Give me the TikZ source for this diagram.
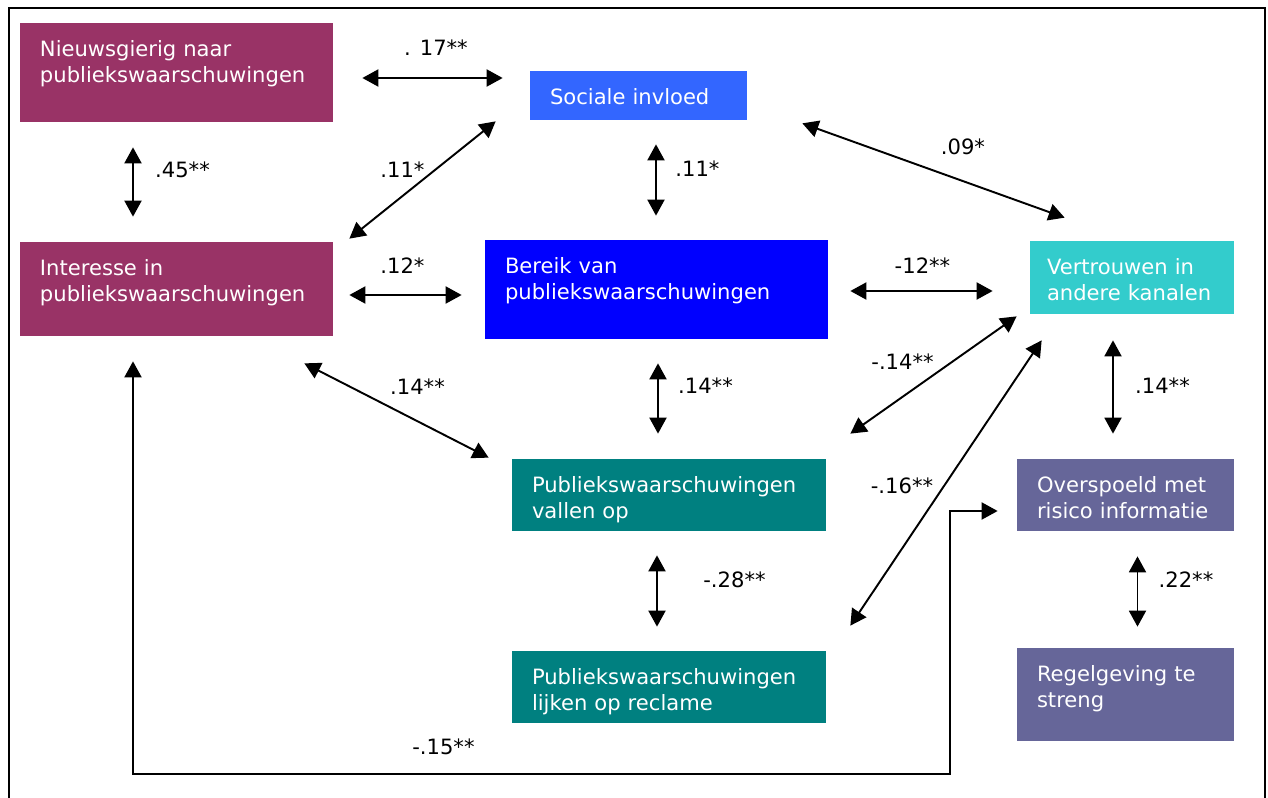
\documentclass[tikz,border=0pt]{standalone}
\usepackage{fontspec}
\setmainfont{DejaVu Sans}
\usepackage{xcolor}
\usepackage{tikz}
\usetikzlibrary{arrows.meta, positioning}
\definecolor{paars}{HTML}{993366}
\definecolor{lichtblauw}{HTML}{3366FF}
\definecolor{blauw}{HTML}{0000FF}
\definecolor{turkoois}{HTML}{33CCCC}
\definecolor{groenblauw}{HTML}{008080}
\definecolor{grijsblauw}{HTML}{666699}
\newcommand{\kaderfont}{\fontsize{12}{14.8}\selectfont}
\tikzstyle{kader} = [rectangle, inner xsep=0.4cm, inner ysep=0pt, text height=0.66cm, align=left, text=white, font=\kaderfont]
\tikzstyle{interesse} = [kader, fill=paars, text width=5.46cm]
\tikzstyle{sociaal} = [kader, fill=lichtblauw, text width=3.54cm]
\tikzstyle{bereik} = [kader, fill=blauw, text width=6.06cm]
\tikzstyle{vertrouwen} = [kader, fill=turkoois, inner xsep=0.34cm, text width=3.4cm]
\tikzstyle{houding} = [kader, fill=groenblauw, text width=5.48cm]
\tikzstyle{risico} = [kader, fill=grijsblauw, text width=3.54cm]
\tikzstyle{pijl} = [line width=1.1pt, {Triangle[length=0.32cm,width=0.34cm]}-{Triangle[length=0.32cm,width=0.34cm]}]
\tikzstyle{coef} = [inner sep=0pt, text=black, font=\kaderfont]

\begin{document}
\begin{tikzpicture}[node distance=4cm]
    \useasboundingbox (-3.53,1.45) rectangle (21.83,-14.51);
    \draw [line width=1.2pt] (-3.35,1.29) rectangle (21.77,-14.75);
    \node (nieuws) [interesse, text depth=1.32cm] {Nieuwsgierig naar\\publiekswaarschuwingen};
    \node (sociaal) [sociaal, right of=nieuws, xshift=5.24cm, yshift=-0.46cm, text depth=0.32cm] {Sociale invloed};
    \node (interesse) [interesse, below of=nieuws, yshift=-0.33cm, text depth=1.22cm] {Interesse in\\publiekswaarschuwingen};
    \node (bereik) [bereik, right of=interesse, xshift=5.6cm, yshift=-0.01cm, text depth=1.32cm] {Bereik van\\publiekswaarschuwingen};
    \node (vertrouwen) [vertrouwen, right of=bereik, xshift=5.51cm, yshift=0.24cm, text depth=0.8cm] {Vertrouwen in\\andere kanalen};
    \node (opvallen) [houding, below of=bereik, xshift=0.25cm, yshift=-0.11cm, text depth=0.78cm] {Publiekswaarschuwingen\\vallen op};
    \node (overspoeld) [risico, right of=opvallen, xshift=5.13cm, text depth=0.78cm] {Overspoeld met\\risico informatie};
    \node (reclame) [houding, below of=opvallen, yshift=0.16cm, text depth=0.78cm] {Publiekswaarschuwingen\\lijken op reclame};
    \node (regels) [risico, below of=overspoeld, yshift=0.01cm, text depth=1.2cm] {Regelgeving te\\streng};
    \coordinate (bocht) at (15.47,-14.03);
    % correlaties
    \draw [pijl] ([xshift=0.58cm,yshift=-0.11cm]nieuws.east) -- ([xshift=-0.54cm,yshift=0.35cm]sociaal.west)
        node (k1) [coef, midway, xshift=0.07cm, yshift=0.6cm] {. 17**};
    \draw [pijl] ([xshift=-0.87cm,yshift=-0.5cm]nieuws.south) -- ([xshift=-0.87cm,yshift=0.5cm]interesse.north)
        node (k2) [coef, midway, xshift=0.99cm, yshift=0.24cm] {.45**};
    \draw [pijl] ([xshift=0.32cm,yshift=0.06cm]interesse.north east) -- ([xshift=-0.68cm,yshift=-0.02cm]sociaal.south west)
        node (k3) [coef, midway, xshift=-0.4cm, yshift=0.21cm] {.11*};
    \draw [pijl] ([xshift=0.35cm,yshift=-0.48cm]sociaal.south) -- ([xshift=-0.01cm,yshift=0.48cm]bereik.north)
        node (k4) [coef, midway, xshift=0.83cm, yshift=0.23cm] {.11*};
    \draw [pijl] ([xshift=1.1cm,yshift=-0.06cm]sociaal.south east) -- ([xshift=0.7cm,yshift=0.46cm]vertrouwen.north west)
        node (k5) [coef, midway, xshift=0.59cm, yshift=0.47cm] {.09*};
    \draw [pijl] ([xshift=0.32cm,yshift=-0.12cm]interesse.east) -- ([xshift=-0.46cm,yshift=-0.11cm]bereik.west)
        node (k6) [coef, midway, xshift=-0.06cm, yshift=0.58cm] {.12*};
    \draw [pijl] ([xshift=0.44cm,yshift=-0.03cm]bereik.east) -- ([xshift=-0.74cm,yshift=-0.27cm]vertrouwen.west)
        node (k7) [coef, midway, xshift=0.02cm, yshift=0.5cm] {-12**};
    \draw [pijl] ([xshift=-0.58cm,yshift=-0.54cm]interesse.south east) -- ([xshift=-0.46cm,yshift=0.02cm]opvallen.north west)
        node (k8) [coef, midway, xshift=0.42cm, yshift=0.48cm] {.14**};
    \draw [pijl] ([xshift=0.03cm,yshift=-0.48cm]bereik.south) -- ([xshift=-0.22cm,yshift=0.5cm]opvallen.north)
        node (k9) [coef, midway, xshift=0.95cm, yshift=0.25cm] {.14**};
    \draw [pijl] ([xshift=0.48cm,yshift=0.5cm]opvallen.north east) -- ([xshift=-0.26cm,yshift=-0.04cm]vertrouwen.south west)
        node (k10) [coef, midway, xshift=-0.62cm, yshift=0.26cm] {-.14**};
    \draw [pijl] ([xshift=-0.38cm,yshift=-0.52cm]vertrouwen.south) -- ([xshift=-0.25cm,yshift=0.5cm]overspoeld.north)
        node (k11) [coef, midway, xshift=0.99cm, yshift=0.02cm] {.14**};
    \draw [pijl] ([xshift=0.48cm,yshift=0.5cm]reclame.north east) -- ([xshift=0.24cm,yshift=-0.52cm]vertrouwen.south west)
        node (k12) [coef, midway, xshift=-0.88cm, yshift=-0.06cm] {-.16**};
    \draw [pijl] ([xshift=-0.24cm,yshift=-0.48cm]opvallen.south) -- ([xshift=-0.24cm,yshift=0.48cm]reclame.north)
        node (k13) [coef, midway, xshift=1.55cm, yshift=0.22cm] {-.28**};
    \draw [pijl] ([xshift=0.24cm,yshift=-0.5cm]overspoeld.south) -- ([xshift=0.24cm,yshift=0.42cm]regels.north)
        node (k14) [coef, midway, xshift=0.97cm, yshift=0.24cm] {.22**};
    \draw [pijl] ([xshift=-0.87cm,yshift=-0.5cm]interesse.south) |- (bocht)
        node (k15) [coef, pos=0.69, yshift=0.54cm] {-.15**}
        |- ([xshift=-0.38cm,yshift=-0.32cm]overspoeld.west);
\end{tikzpicture}
\end{document}
